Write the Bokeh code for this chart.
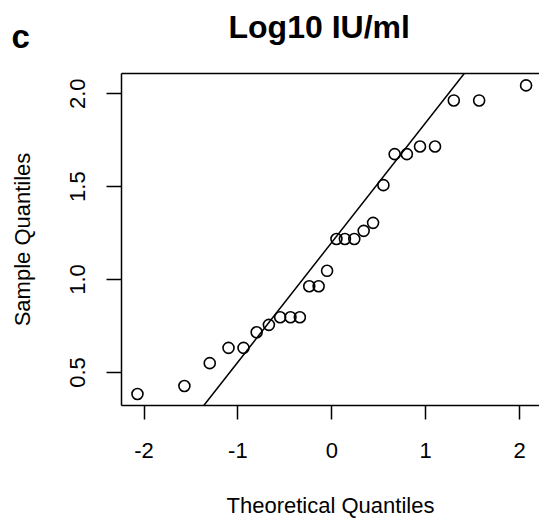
from bokeh.plotting import figure
from bokeh.models import Range1d, LinearAxis, Label, Slope, FixedTicker, PrintfTickFormatter, ColumnDataSource
from bokeh.embed import file_html
from bokeh.resources import INLINE

# Data
theoretical = [-2.07, -1.57, -1.30, -1.10, -0.94, -0.80, -0.67, -0.55, -0.44, -0.34,
               -0.24, -0.14, -0.05, 0.05, 0.14, 0.24, 0.34, 0.44, 0.55, 0.67,
               0.80, 0.94, 1.10, 1.30, 1.57, 2.07]
sample = [0.384, 0.427, 0.550, 0.632, 0.632, 0.716, 0.756, 0.797, 0.797, 0.797,
          0.964, 0.964, 1.047, 1.218, 1.218, 1.218, 1.262, 1.305, 1.508, 1.675,
          1.675, 1.716, 1.716, 1.964, 1.964, 2.045]
qq_intercept = 1.20
qq_slope = 0.644
x_ticks = [-2, -1, 0, 1, 2]
y_ticks = [0.5, 1.0, 1.5, 2.0]
title_text = "Log10 IU/ml"
panel_letter = "c"
x_label = "Theoretical Quantiles"
y_label = "Sample Quantiles"

p = figure(width=539, height=520, output_backend="svg", toolbar_location=None,
           x_range=Range1d(-2.24, 2.213), y_range=Range1d(0.322, 2.109),
           min_border_left=121, min_border_top=73, min_border_bottom=115, min_border_right=0,
           x_axis_location=None, y_axis_location=None)
p.outline_line_color = None
p.xgrid.visible = False
p.ygrid.visible = False
p.background_fill_color = "white"
p.border_fill_color = "white"

font = "Liberation Sans"

xa = LinearAxis(ticker=FixedTicker(ticks=x_ticks), formatter=PrintfTickFormatter(format="%d"))
xa.axis_label = x_label
ya = LinearAxis(ticker=FixedTicker(ticks=y_ticks), formatter=PrintfTickFormatter(format="%.1f"))
ya.axis_label = y_label
for ax in (xa, ya):
    ax.axis_line_color = "black"
    ax.axis_line_width = 1.5
    ax.major_tick_line_color = "black"
    ax.major_tick_line_width = 1.5
    ax.major_tick_in = 0
    ax.minor_tick_line_color = None
    ax.major_label_text_font = font
    ax.major_label_text_font_size = "22px"
    ax.major_label_text_color = "black"
    ax.axis_label_text_font = font
    ax.axis_label_text_font_size = "22px"
    ax.axis_label_text_font_style = "normal"
    ax.axis_label_text_color = "black"
xa.major_tick_out = 14
xa.major_label_standoff = 23
xa.axis_label_standoff = 32
ya.major_tick_out = 15
ya.major_label_standoff = 21
ya.major_label_orientation = "vertical"
ya.axis_label_standoff = 33
p.add_layout(xa, "below")
p.add_layout(ya, "left")

top = LinearAxis(ticker=FixedTicker(ticks=[]))
top.axis_line_color = "black"
top.axis_line_width = 1.5
top.major_tick_line_color = None
top.major_tick_out = 0
top.major_tick_in = 0
top.minor_tick_line_color = None
top.minor_tick_out = 0
top.major_label_standoff = 0
top.axis_label_standoff = 0
top.major_label_text_font_size = "0px"
p.add_layout(top, "above")

p.add_layout(Label(x=107, y=47, x_units="screen", y_units="screen", text=title_text,
                   text_font=font, text_font_style="bold", text_font_size="32px",
                   text_baseline="alphabetic", text_align="left", text_color="black"), "above")
p.add_layout(Label(x=-110, y=1, x_units="screen", y_units="screen", text=panel_letter,
                   text_font=font, text_font_style="bold", text_font_size="33px",
                   text_baseline="alphabetic", text_align="left", text_color="black"), "above")

p.add_layout(Slope(gradient=qq_slope, y_intercept=qq_intercept, line_color="black", line_width=1.5))

src = ColumnDataSource(dict(x=theoretical, y=sample))
p.scatter("x", "y", source=src, size=11, fill_color=None, line_color="black", line_width=1.6)

open("out.html", "w").write(file_html(p, INLINE))
